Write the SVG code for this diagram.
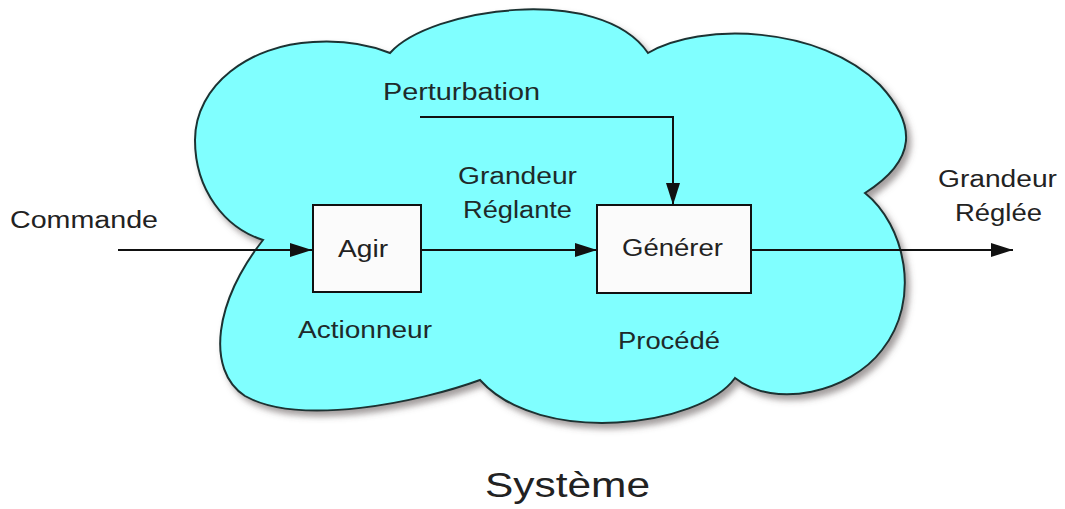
<svg xmlns="http://www.w3.org/2000/svg" width="1065" height="509" viewBox="0 0 1065 509">
  <style>
    .lbl { font-family: "Liberation Sans", Arial, Helvetica, sans-serif; font-size: 23px; fill: #1e2a2a; }
    .out { fill: #222; }
    .box { fill: #fbfbfb; stroke: #111; stroke-width: 2; }
    .wire { fill: none; stroke: #111; stroke-width: 2; }
    .cloud { fill: #80ffff; stroke: #1b3333; stroke-width: 2; }
  </style>
  <defs>
    <marker id="arrow" markerUnits="userSpaceOnUse" markerWidth="24" markerHeight="16" refX="22" refY="7" orient="auto">
      <path d="M0,0 L22,7 L0,14 Z" fill="#111"/>
    </marker>
    <filter id="shadow" x="-10%" y="-10%" width="125%" height="130%">
      <feDropShadow dx="4" dy="5" stdDeviation="3" flood-color="#5a5050" flood-opacity="0.55"/>
    </filter>
  </defs>

  <rect width="1065" height="509" fill="#ffffff"/>

  <!-- system boundary drawn as a cloud -->
  <g id="systeme">
    <path class="cloud" filter="url(#shadow)" d="M263,240
      C225,228 195,190 195,140
      C195,85 250,45 313,42
      C345,40 370,45 390,53
      C430,8 600,-17 648,53
      C700,22 820,25 880,85
      C917,125 917,160 865,193
      C905,225 922,300 882,350
      C850,392 775,410 735,378
      C700,427 540,447 480,380
      C420,402 300,427 245,396
      C205,370 215,300 263,240 Z"/>
    <text class="lbl out" x="485" y="497" style="font-size:35px" textLength="165" lengthAdjust="spacingAndGlyphs">Système</text>
  </g>

  <!-- connectors -->
  <g id="connectors">
    <path class="wire" d="M118,250 H312" marker-end="url(#arrow)"/>
    <path class="wire" d="M422,250 H597" marker-end="url(#arrow)"/>
    <path class="wire" d="M751,250 H1013" marker-end="url(#arrow)"/>
    <path class="wire" d="M420,117 H673 V205" marker-end="url(#arrow)"/>
  </g>

  <g id="agir">
    <rect class="box" x="313" y="205" width="108" height="87"/>
    <text class="lbl out" x="338" y="257" textLength="50" lengthAdjust="spacingAndGlyphs">Agir</text>
    <text class="lbl" x="298" y="338" textLength="134" lengthAdjust="spacingAndGlyphs">Actionneur</text>
  </g>

  <g id="generer">
    <rect class="box" x="597" y="205" width="154" height="88"/>
    <text class="lbl out" x="622" y="256" textLength="101" lengthAdjust="spacingAndGlyphs">Générer</text>
    <text class="lbl" x="618" y="349" textLength="102" lengthAdjust="spacingAndGlyphs">Procédé</text>
  </g>

  <!-- signal labels -->
  <g id="labels">
    <text class="lbl out" x="10" y="228" textLength="148" lengthAdjust="spacingAndGlyphs">Commande</text>
    <text class="lbl" x="383" y="100" textLength="157" lengthAdjust="spacingAndGlyphs">Perturbation</text>
    <text class="lbl" x="458" y="184" textLength="119" lengthAdjust="spacingAndGlyphs">Grandeur</text>
    <text class="lbl" x="463" y="218" textLength="109" lengthAdjust="spacingAndGlyphs">Réglante</text>
    <text class="lbl out" x="938" y="187" textLength="119" lengthAdjust="spacingAndGlyphs">Grandeur</text>
    <text class="lbl out" x="955" y="221" textLength="87" lengthAdjust="spacingAndGlyphs">Réglée</text>
  </g>
</svg>
